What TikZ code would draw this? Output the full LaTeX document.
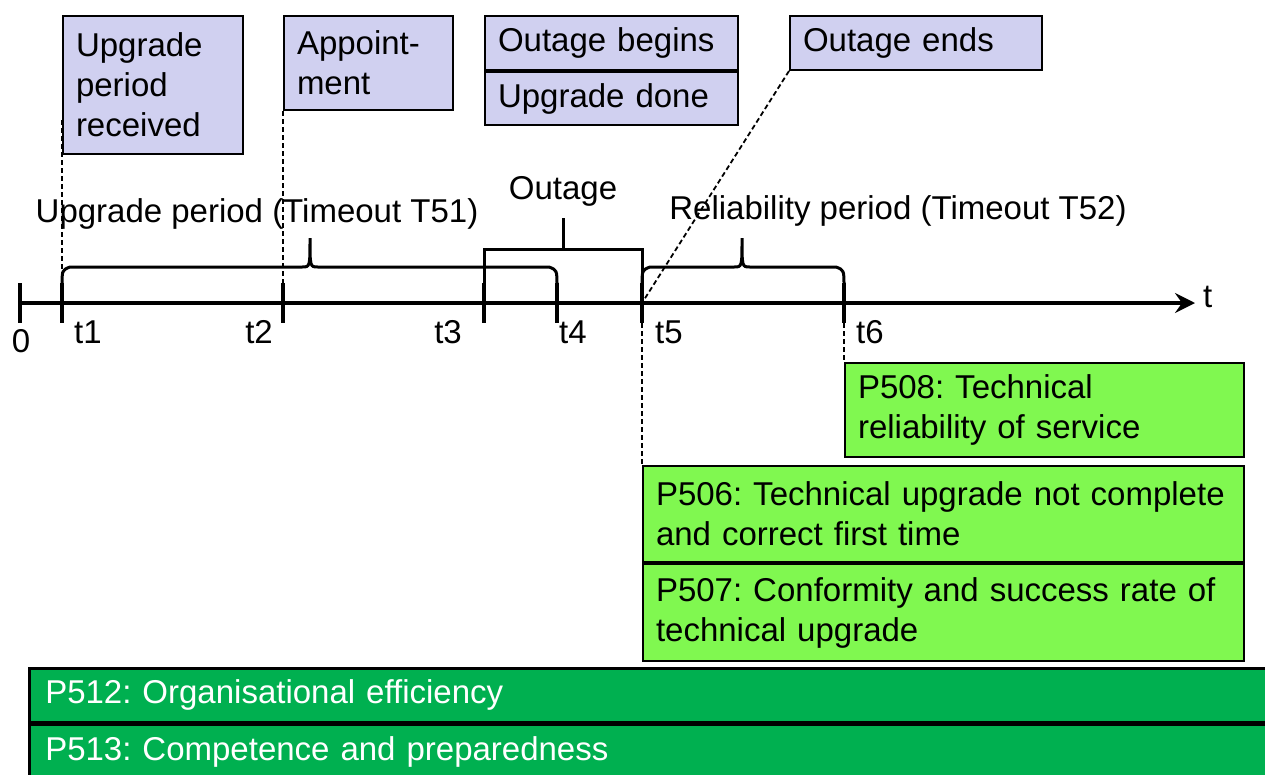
\documentclass[tikz,border=0pt]{standalone}
\usepackage{fontspec}
\setmainfont{Liberation Sans}
\usepackage{tikz}
\usetikzlibrary{positioning,arrows.meta}
\frenchspacing

\definecolor{eventblue}{RGB}{208,208,240}
\definecolor{kpilight}{RGB}{128,248,80}
\definecolor{kpidark}{RGB}{0,176,80}

\tikzset{
	event/.style={draw=black, line width=2pt, fill=eventblue, anchor=north west, inner xsep=13pt, inner ysep=0pt, align=left, font=\fontsize{33}{40}\selectfont},
	kpi/.style={draw=black, line width=2pt, fill=kpilight, anchor=north west, inner xsep=13pt, inner ysep=0pt, align=left, font=\fontsize{33}{40}\selectfont},
	kpiorg/.style={draw=black, line width=2.5pt, fill=kpidark, text=white, anchor=north west, inner xsep=16pt, inner ysep=0pt, align=left, text width=1260pt, minimum height=54pt, font=\fontsize{33}{40}\selectfont},
	tlabel/.style={inner sep=0pt, font=\fontsize{33}{40}\selectfont},
	tickline/.style={line width=4pt},
	bracket/.style={line width=3pt},
	leader/.style={line width=1.8pt, dash pattern=on 5pt off 3pt}
}

\begin{document}
\begin{tikzpicture}[x=1pt,y=-1pt]
	\useasboundingbox (0,0) rectangle (1265,774);

	% events
	\node[event, text width=154pt, minimum height=138pt] (recv) at (62,15) {Upgrade\\period\\received};
	\node[event, text width=143pt, minimum height=94pt] (appt) at (283,15) {Appoint-\\ment};
	\node[event, text width=227pt, minimum height=54pt] (obegin) at (484,15) {Outage begins};
	\node[event, text width=227pt, minimum height=53pt, below=0pt of obegin.south west, anchor=north west] (updone) {Upgrade done};
	\node[event, text width=226pt, minimum height=54pt] (oend) at (789,15) {Outage ends};

	% time axis
	\coordinate (tend) at (1195,303);
	\foreach \x/\n in {20/t0,62/t1,283/t2,484/t3,557/t4,642/t5,844/t6}{
		\coordinate (\n) at (\x,303);
		\draw[tickline] (\x,283) -- (\x,323);
	}
	\draw[line width=4pt, -{Stealth[length=20pt,width=20pt,inset=7pt]}] (t0) -- (tend);
	\node[tlabel, anchor=base west] (lt) at (1203,307) {t};
	\node[tlabel, anchor=base] (l0) at (21,352) {0};
	\node[tlabel, anchor=base west] (l1) at (74,343) {t1};
	\node[tlabel, anchor=base east] (l2) at (273,343) {t2};
	\node[tlabel, anchor=base east] (l3) at (462,343) {t3};
	\node[tlabel, anchor=base west] (l4) at (559,343) {t4};
	\node[tlabel, anchor=base west] (l5) at (655,343) {t5};
	\node[tlabel, anchor=base west] (l6) at (856,343) {t6};

	% periods
	\draw[bracket] (62,287) .. controls (62,270) .. (70,267) -- (302,267) .. controls (310,267) .. (310,238) .. controls (310,267) .. (318,267) -- (549,267) .. controls (557,270) .. (557,287);
	\draw[bracket] (642,287) .. controls (642,270) .. (650,267) -- (734,267) .. controls (742,267) .. (742,238) .. controls (742,267) .. (750,267) -- (836,267) .. controls (844,270) .. (844,287);
	\draw[bracket] (t3) -- (484,249) -- (642,249) -- (t5);
	\draw[bracket] (563,249) -- (563,218);
	\node[tlabel, anchor=base] (lup) at (257,222) {Upgrade period (Timeout T51)};
	\node[tlabel, anchor=base] (lout) at (563,199) {Outage};
	\node[tlabel, anchor=base] (lrel) at (898,219) {Reliability period (Timeout T52)};

	% indicators
	\node[kpi, text width=373pt, minimum height=94pt] (p508) at (844,362) {P508: Technical\\reliability of service};
	\node[kpi, text width=575pt, minimum height=96pt] (p506) at (642,465) {P506: Technical upgrade not complete\\and correct first time};
	\node[kpi, text width=575pt, minimum height=97pt, below=0pt of p506.south west, anchor=north west] (p507) {P507: Conformity and success rate of\\technical upgrade};
	\node[kpiorg] (p512) at (28,667) {P512: Organisational efficiency};
	\node[kpiorg, below=0pt of p512.south west, anchor=north west] (p513) {P513: Competence and preparedness};

	% leaders
	\draw[leader] ([yshift=35pt]recv.south west) -- ([yshift=20pt]t1);
	\draw[leader] (appt.south west) -- ([yshift=20pt]t2);
	\draw[leader] (oend.south west) -- (t5);
	\draw[leader] ([yshift=-20pt]t5) -- (p506.north west);
	\draw[leader] ([yshift=-20pt]t6) -- (p508.north west);
\end{tikzpicture}
\end{document}
